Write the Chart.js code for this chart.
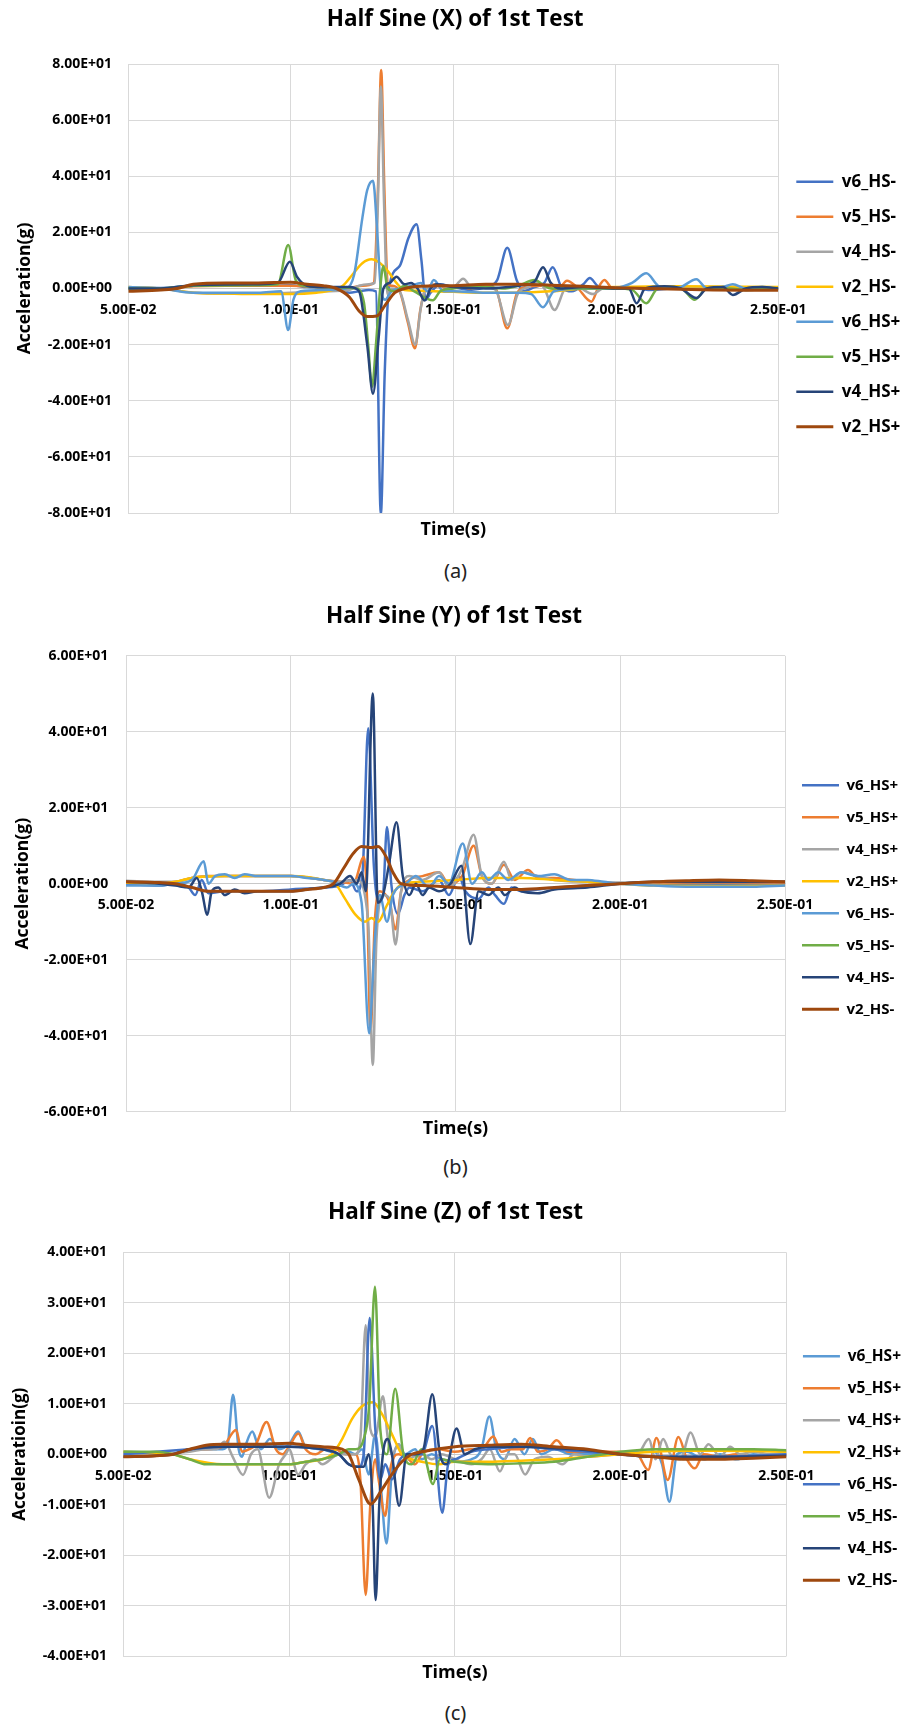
<!DOCTYPE html>
<html>
<head>
<meta charset="utf-8">
<script src="https://cdn.jsdelivr.net/npm/chart.js@4.4.1/dist/chart.umd.min.js"></script>
<style>
  html, body { margin: 0; background: #fff; overflow: hidden; }
  #page { position: relative; width: 911px; height: 1727px; }
  .box { position: absolute; left: 0; width: 911px; }
  .cap { position: absolute; left: 4px; width: 903px; text-align: center; font-family: 'Noto Sans', sans-serif; font-size: 20px; line-height: 24px; color: #222; }
</style>
</head>
<body>
<div id="page">
  <div class="box" style="top:0px;height:550px"><canvas id="half_sine_x"></canvas></div>
  <div class="cap" style="top:559px">(a)</div>
  <div class="box" style="top:590px;height:560px"><canvas id="half_sine_y"></canvas></div>
  <div class="cap" style="top:1155px">(b)</div>
  <div class="box" style="top:1180px;height:510px"><canvas id="half_sine_z"></canvas></div>
  <div class="cap" style="top:1701px">(c)</div>
</div>
<script>
// tick values
const xTicks = [0.05, 0.10, 0.15, 0.20, 0.25];
const yTicksX = [-80, -60, -40, -20, 0, 20, 40, 60, 80];
const yTicksY = [-60, -40, -20, 0, 20, 40, 60];
const yTicksZ = [-40, -30, -20, -10, 0, 10, 20, 30, 40];

// Excel office palette, in series order
const colorsXY = ['#4472C4', '#ED7D31', '#A5A5A5', '#FFC000', '#5B9BD5', '#70AD47', '#264478', '#9E480E'];
const colorsZ = ['#5B9BD5', '#ED7D31', '#A5A5A5', '#FFC000', '#4472C4', '#70AD47', '#264478', '#9E480E'];

//Half Sine (X) -- [time(s), acceleration(g)]
const namesX = ['v6_HS-', 'v5_HS-', 'v4_HS-', 'v2_HS-', 'v6_HS+', 'v5_HS+', 'v4_HS+', 'v2_HS+'];
const x_v6m = [[0.05,0.3],[0.06,0.2],[0.07,1],[0.08,1.2],[0.09,1],[0.1,1.2],[0.105,0.5],[0.11,0.3],[0.115,-0.5],[0.118,-1.5],[0.121,-1],[0.124,-0.5],[0.1262,-1],[0.1277,-80.5],[0.1289,-30],[0.1302,0],[0.1335,8],[0.1362,18],[0.1387,22.9],[0.1402,10],[0.1415,-4],[0.143,-1.5],[0.146,1.5],[0.15,0.5],[0.155,-0.5],[0.16,0.5],[0.1635,3],[0.1666,14.5],[0.1695,3],[0.1715,-1],[0.175,0.5],[0.178,2],[0.1806,7.6],[0.1835,0],[0.1865,-1],[0.19,1.5],[0.192,3.7],[0.1945,0.8],[0.198,0],[0.205,0.3],[0.21,-0.5],[0.22,0.3],[0.23,0.5],[0.24,-0.5],[0.25,0]];
const x_v5m = [[0.05,0],[0.06,0],[0.07,0.8],[0.08,1],[0.09,1],[0.1,1],[0.11,0.5],[0.118,0.3],[0.122,1],[0.1255,2],[0.1268,35],[0.1278,77.9],[0.1288,35],[0.1298,2],[0.131,1],[0.1335,-1],[0.136,-12],[0.1382,-21.3],[0.1398,-8],[0.1415,0],[0.145,1.5],[0.148,0],[0.152,1],[0.155,0],[0.159,1],[0.163,0],[0.1666,-14.2],[0.1695,-2],[0.172,0.5],[0.178,1],[0.182,-0.5],[0.185,2.8],[0.188,0.5],[0.1925,-4.7],[0.1945,0],[0.1965,3],[0.199,0],[0.21,0.3],[0.25,0]];
const x_v4m = [[0.05,0.3],[0.06,0],[0.07,-1.5],[0.08,-1.8],[0.09,-1.8],[0.1,-1.5],[0.11,-1],[0.118,-0.5],[0.121,1],[0.124,1.5],[0.1258,2],[0.1268,30],[0.1277,72],[0.1287,30],[0.1297,-2],[0.131,0],[0.1335,-1],[0.136,-11],[0.1383,-20],[0.14,-7],[0.1415,0],[0.145,1],[0.15,0.5],[0.153,3.5],[0.156,0],[0.16,0.5],[0.163,-0.5],[0.1668,-13],[0.1698,-2],[0.173,0.5],[0.176,2.5],[0.178,0],[0.1812,-7.7],[0.1845,0],[0.188,0.5],[0.193,-2],[0.196,0],[0.205,0.3],[0.215,0.5],[0.25,0.3]];
const x_v2m = [[0.05,0.5],[0.06,0],[0.07,-1.5],[0.08,-1.8],[0.09,-2],[0.1,-2],[0.108,-1.5],[0.113,-0.5],[0.116,1],[0.119,5],[0.122,9],[0.1248,10.4],[0.1275,9],[0.13,6],[0.1325,2],[0.135,-0.5],[0.14,-0.8],[0.15,-1.2],[0.16,-1.5],[0.17,-1.5],[0.18,-1],[0.19,0],[0.2,0.5],[0.22,0.8],[0.25,0.5]];
const x_v6p = [[0.05,0.5],[0.06,0],[0.07,-1.5],[0.08,-1.5],[0.09,-1.5],[0.097,-1],[0.0992,-14.8],[0.1008,-4],[0.103,-1],[0.11,-0.5],[0.117,0],[0.1195,5],[0.122,25],[0.1235,35],[0.1253,38.4],[0.1265,22],[0.1277,0],[0.129,-4],[0.131,-1],[0.134,0],[0.137,1],[0.14,2],[0.142,-1],[0.144,3],[0.147,-1],[0.15,-1],[0.16,-1.5],[0.17,-1.5],[0.174,-2],[0.1776,-6.7],[0.181,-1],[0.19,0],[0.2,0.3],[0.205,2],[0.2094,5.4],[0.213,1],[0.217,0],[0.22,0.5],[0.2248,3.3],[0.228,0],[0.233,0.5],[0.236,1.5],[0.24,0],[0.245,0.5],[0.25,0]];
const x_v5p = [[0.05,0],[0.06,0],[0.07,1],[0.09,1.2],[0.096,1.5],[0.0992,15.5],[0.1015,3],[0.104,1],[0.11,0.5],[0.12,0],[0.1225,-5],[0.1238,-20],[0.125,-35],[0.1262,-20],[0.1275,0],[0.1285,8],[0.1298,0],[0.132,-1],[0.135,1],[0.138,-1],[0.1437,-4.2],[0.146,-1],[0.15,0],[0.155,0.5],[0.16,0.5],[0.165,0],[0.17,1],[0.175,3],[0.178,1],[0.18,0],[0.19,0],[0.2,0],[0.205,-0.5],[0.2094,-5.3],[0.213,0],[0.22,0],[0.2243,-4],[0.228,0],[0.235,0],[0.24,-0.5],[0.25,0]];
const x_v4p = [[0.05,0],[0.06,0],[0.07,1.2],[0.09,1.5],[0.096,2],[0.0997,9.5],[0.102,4],[0.105,1],[0.11,0.5],[0.118,0.5],[0.121,-1],[0.1235,-20],[0.1253,-37.5],[0.127,-18],[0.1285,0],[0.1305,2],[0.1325,4.2],[0.135,1.5],[0.137,2],[0.139,0],[0.1412,-4.3],[0.143,0],[0.145,1.5],[0.15,0.5],[0.16,0],[0.17,1],[0.175,2.5],[0.1776,7.6],[0.18,2],[0.183,0],[0.19,0.5],[0.2,0],[0.204,0],[0.2064,-5.3],[0.209,0],[0.215,0.8],[0.22,0],[0.2248,-3.4],[0.228,0],[0.233,0.5],[0.236,-2.3],[0.24,0],[0.245,0.5],[0.25,0]];
const x_v2p = [[0.05,-1],[0.06,-0.5],[0.065,0],[0.07,1.5],[0.08,2],[0.09,2],[0.1,2.2],[0.105,1.5],[0.11,1],[0.114,0],[0.118,-3],[0.121,-8],[0.1235,-10],[0.1265,-9.8],[0.129,-6],[0.132,-1.5],[0.135,0],[0.14,0.8],[0.15,1],[0.16,1.5],[0.17,1.5],[0.18,1.2],[0.19,0.8],[0.2,0.3],[0.21,0],[0.22,-0.3],[0.23,-0.5],[0.24,-0.6],[0.25,-0.6]];

//Half Sine (Y)
const namesY = ['v6_HS+', 'v5_HS+', 'v4_HS+', 'v2_HS+', 'v6_HS-', 'v5_HS-', 'v4_HS-', 'v2_HS-'];
const y_v6p = [[0.05,0],[0.06,-0.5],[0.065,0],[0.069,-1],[0.071,-3],[0.073,1],[0.075,-2.5],[0.08,-2],[0.09,-2],[0.1,-1.5],[0.11,-1],[0.115,-0.5],[0.118,1],[0.12,-2],[0.1218,3],[0.1235,40.9],[0.1252,5],[0.1265,-5],[0.128,-3],[0.1292,14.9],[0.1305,0],[0.1325,-8],[0.1345,-3],[0.136,-1],[0.14,-2],[0.145,1],[0.148,-3],[0.151,2],[0.153,-2],[0.157,-4],[0.16,-1],[0.162,-3],[0.1647,-5.3],[0.167,-1],[0.17,-2],[0.175,-1.5],[0.18,-1],[0.19,-0.5],[0.2,0],[0.21,0],[0.25,0]];
const y_v5p = [[0.05,0.3],[0.06,0],[0.065,0.5],[0.07,1.5],[0.075,2],[0.08,2],[0.09,2],[0.1,2],[0.11,1],[0.115,0.5],[0.119,0],[0.1222,7],[0.1232,-5],[0.1242,-39.3],[0.1255,-10],[0.127,-2],[0.13,-5],[0.1318,-12],[0.1335,-2],[0.136,1],[0.14,2],[0.145,3],[0.148,0],[0.152,2],[0.1555,10],[0.158,2],[0.161,0],[0.1647,5],[0.168,1],[0.172,3.6],[0.175,1.5],[0.18,1.5],[0.19,0.5],[0.2,0],[0.22,0.3],[0.25,0.3]];
const y_v4p = [[0.05,0.8],[0.06,0.5],[0.065,0.5],[0.07,1.5],[0.08,2],[0.09,2],[0.1,2],[0.11,1],[0.115,0.5],[0.12,1],[0.1235,-10],[0.1249,-47.7],[0.126,-15],[0.128,-3],[0.13,-4],[0.1318,-16],[0.1335,-2],[0.136,2],[0.14,1],[0.145,3],[0.148,-1],[0.152,4],[0.1555,12.9],[0.158,2],[0.161,0],[0.1647,5.8],[0.167,1],[0.17,3],[0.175,2],[0.18,1],[0.19,0.5],[0.2,0.3],[0.22,0.5],[0.25,0.5]];
const y_v2p = [[0.05,0.3],[0.06,0],[0.065,0.5],[0.07,1.5],[0.08,2],[0.1,2],[0.11,1],[0.1135,0],[0.1165,-4],[0.1195,-8],[0.1225,-10],[0.1245,-9],[0.1265,-10],[0.129,-6],[0.1315,-2],[0.134,0],[0.14,0.5],[0.15,1],[0.16,1.5],[0.17,1.5],[0.18,1],[0.19,0.5],[0.2,0],[0.21,-0.5],[0.23,-0.6],[0.25,-0.5]];
const y_v6m = [[0.05,-0.5],[0.06,-0.5],[0.065,0],[0.07,1],[0.0736,5.9],[0.075,0],[0.077,2],[0.08,2.5],[0.083,1.5],[0.086,2.5],[0.09,2],[0.095,2],[0.1,2],[0.105,1.5],[0.11,1],[0.113,0.5],[0.117,-1],[0.119,0],[0.1215,-5],[0.1238,-39.4],[0.1255,-15],[0.127,-3],[0.1292,-10],[0.131,-3],[0.135,0],[0.138,2],[0.142,-1],[0.145,2],[0.148,0],[0.1522,10.6],[0.155,0],[0.158,3],[0.16,1],[0.163,3],[0.166,1],[0.17,3],[0.175,2],[0.18,2.5],[0.185,1],[0.19,1],[0.195,0.5],[0.2,0],[0.21,-0.5],[0.22,-0.8],[0.24,-0.8],[0.25,-0.5]];
const y_v5m = [];
const y_v4m = [[0.05,0.5],[0.06,0],[0.065,-0.5],[0.069,-1],[0.0715,1.5],[0.073,-2],[0.0747,-8.2],[0.076,-2],[0.078,-1],[0.08,-3],[0.083,-1.5],[0.086,-2.5],[0.09,-2],[0.095,-2],[0.1,-2],[0.105,-1.5],[0.11,-1],[0.115,0],[0.118,2],[0.12,0],[0.1215,3],[0.1228,-2],[0.1249,50.1],[0.1264,-5],[0.128,-3],[0.1298,5],[0.1321,16.2],[0.134,2],[0.136,-3],[0.138,0],[0.14,-3],[0.142,-1],[0.145,-2],[0.1485,0],[0.1518,4.7],[0.1545,-15.9],[0.157,-2],[0.16,-3],[0.163,-1],[0.165,-3],[0.168,-1],[0.17,-2],[0.175,-2.5],[0.18,-1.5],[0.19,-1],[0.2,0],[0.21,0.5],[0.22,0.5],[0.25,0.5]];
const y_v2m = [[0.05,0.5],[0.06,0.3],[0.065,0],[0.07,-1],[0.075,-2],[0.08,-2],[0.09,-2],[0.1,-2],[0.105,-1.5],[0.11,-1],[0.113,0],[0.116,4],[0.119,8],[0.1215,9.8],[0.1245,9.5],[0.1265,9.8],[0.129,7],[0.131,3],[0.1335,0],[0.14,-0.5],[0.15,-1],[0.16,-1.5],[0.17,-1.5],[0.18,-1],[0.19,-0.5],[0.2,0],[0.21,0.5],[0.22,0.8],[0.23,1],[0.24,0.8],[0.25,0.5]];

//Half Sine (Z)
const namesZ = ['v6_HS+', 'v5_HS+', 'v4_HS+', 'v2_HS+', 'v6_HS-', 'v5_HS-', 'v4_HS-', 'v2_HS-'];
const z_v6p = [[0.05,0.5],[0.06,0.3],[0.065,0],[0.07,1],[0.075,1],[0.08,1],[0.0815,2],[0.0831,11.8],[0.0848,1],[0.0858,-0.5],[0.087,2],[0.0889,4.5],[0.0905,2],[0.0915,1],[0.0942,3],[0.097,1],[0.1,2],[0.1027,4.5],[0.105,1.5],[0.11,1],[0.115,0],[0.118,0.5],[0.12,0],[0.122,1],[0.124,-4],[0.126,4],[0.1275,-5],[0.1294,-17.7],[0.131,-3],[0.133,2],[0.135,0],[0.138,1],[0.14,-1],[0.143,0],[0.146,-1],[0.15,-1.5],[0.155,-1],[0.158,1],[0.1604,7.5],[0.1625,1],[0.165,-1],[0.168,3],[0.171,0],[0.1735,3],[0.176,0],[0.18,1],[0.185,0],[0.19,0],[0.2,0],[0.205,0.5],[0.21,0.5],[0.2125,-2],[0.2147,-9.4],[0.217,0],[0.22,0.5],[0.225,-1],[0.23,0],[0.235,-1],[0.24,0],[0.245,-0.5],[0.25,0]];
const z_v5p = [[0.05,-0.5],[0.06,-0.3],[0.065,0],[0.07,1],[0.075,1],[0.08,1.5],[0.084,4.8],[0.0858,0.5],[0.088,1],[0.09,2],[0.0932,6.4],[0.096,1],[0.098,0],[0.1,1.5],[0.1028,4.1],[0.105,1],[0.108,0],[0.111,1],[0.114,1],[0.117,0],[0.12,0],[0.1215,-5],[0.1231,-27.9],[0.1245,-10],[0.126,-1],[0.127,-5],[0.129,-12.2],[0.1305,-3],[0.133,0],[0.136,-1],[0.138,-2],[0.14,0],[0.145,1],[0.15,0.5],[0.155,1],[0.158,1],[0.1616,3.5],[0.164,0.5],[0.167,1],[0.1705,1],[0.1727,3.2],[0.175,0.5],[0.178,1],[0.1807,2.8],[0.184,0.5],[0.19,0.5],[0.2,0.5],[0.205,0],[0.2083,-3.1],[0.2108,3.2],[0.2142,-5.1],[0.2174,3.4],[0.22,-1],[0.2224,-2.8],[0.225,0],[0.23,-0.5],[0.235,0],[0.24,-0.5],[0.25,0]];
const z_v4p = [[0.05,0],[0.06,0],[0.07,0.5],[0.075,1],[0.078,1],[0.0805,2.5],[0.083,-0.5],[0.0861,-4.1],[0.0885,0],[0.0905,1],[0.094,-8.6],[0.097,-2],[0.099,0],[0.1,1],[0.1027,-4],[0.105,-2],[0.108,-1],[0.11,-2],[0.115,0],[0.12,0],[0.1215,3],[0.1231,25.6],[0.1245,5],[0.126,3.5],[0.1283,11.5],[0.1298,3],[0.131,0],[0.133,2],[0.135,-1],[0.14,0],[0.143,-1],[0.146,0],[0.15,-1],[0.155,-2],[0.158,-1],[0.1605,1],[0.1636,-3.4],[0.166,0],[0.168,0],[0.1712,-4],[0.174,-1],[0.178,-0.5],[0.1824,-2],[0.186,0],[0.19,-0.5],[0.2,0],[0.205,0],[0.2085,3],[0.2105,-1],[0.2128,3],[0.215,0],[0.218,-1],[0.2211,4.3],[0.224,0],[0.2265,2],[0.23,-0.5],[0.233,1.5],[0.236,0],[0.24,0.5],[0.245,0],[0.25,0.3]];
const z_v2p = [[0.05,0.5],[0.06,0.2],[0.065,0],[0.07,-1],[0.08,-2],[0.09,-2],[0.1,-2],[0.105,-1.5],[0.11,-1],[0.113,0],[0.116,3],[0.119,7],[0.122,9.5],[0.1253,10.3],[0.128,8],[0.131,4],[0.134,0],[0.137,-1],[0.14,-1.5],[0.145,-2],[0.15,-1.5],[0.16,-1.5],[0.17,-1.3],[0.18,-1],[0.19,-0.5],[0.2,0],[0.21,0.5],[0.22,0.7],[0.23,0.7],[0.25,0.5]];
const z_v6m = [[0.05,0],[0.07,1],[0.08,1.5],[0.09,1.5],[0.1,1.5],[0.11,1],[0.115,0],[0.118,-2],[0.121,-2.5],[0.1225,0],[0.1243,27],[0.126,5],[0.1275,-5],[0.129,-2],[0.131,-5],[0.1335,-1],[0.136,0],[0.14,0],[0.1432,5.6],[0.1462,-11.6],[0.148,-2],[0.15,-1],[0.155,0.5],[0.16,1],[0.17,1.5],[0.18,1],[0.19,0.5],[0.2,0],[0.21,-0.5],[0.22,-0.5],[0.23,-0.5],[0.25,0]];
const z_v5m = [[0.05,0.5],[0.06,0.5],[0.065,0],[0.07,-1],[0.075,-2],[0.08,-2],[0.09,-2],[0.1,-2],[0.105,-1.5],[0.11,-1],[0.115,0],[0.118,1],[0.12,1],[0.1225,3],[0.1242,10],[0.1259,33.2],[0.1275,5],[0.1295,0],[0.132,13],[0.1345,0],[0.137,-2],[0.14,1],[0.1434,-5.9],[0.1455,-1],[0.15,-1.5],[0.16,-2],[0.17,-1.8],[0.18,-1.5],[0.19,-0.5],[0.2,0.5],[0.21,1],[0.22,1],[0.23,1],[0.24,1],[0.25,0.8]];
const z_v4m = [[0.05,-0.5],[0.06,-0.3],[0.065,0],[0.07,1],[0.08,1.5],[0.09,1.5],[0.1,1.5],[0.11,1],[0.115,0],[0.118,-2],[0.12,-2.5],[0.1225,-2.5],[0.124,0],[0.1252,-10],[0.1261,-28.9],[0.1272,-10],[0.1283,0],[0.1297,3],[0.131,0],[0.1332,-10.2],[0.1355,0],[0.138,0],[0.1405,1],[0.1432,11.9],[0.1455,0],[0.1475,-2],[0.1505,5.1],[0.153,0],[0.156,1],[0.16,1.5],[0.17,1.5],[0.18,1.2],[0.19,0.8],[0.2,0],[0.21,-0.5],[0.22,-0.5],[0.23,-0.5],[0.25,-0.3]];
const z_v2m = [[0.05,-0.5],[0.06,-0.3],[0.065,0],[0.07,1],[0.075,1.8],[0.08,2],[0.09,2],[0.1,2.2],[0.105,1.8],[0.11,1.5],[0.116,1],[0.118,0],[0.121,-5],[0.1246,-9.9],[0.128,-7],[0.131,-4],[0.134,-1.5],[0.137,0],[0.14,0.5],[0.15,1.5],[0.16,1.8],[0.17,2],[0.18,1.5],[0.19,1],[0.2,0],[0.21,-0.5],[0.22,-1],[0.23,-1],[0.24,-0.8],[0.25,-0.5]];

Chart.defaults.font.family = "'Open Sans', sans-serif";
Chart.defaults.color = '#000';

// Excel style 8.00E+01
function sci(v) {
    const parts = Number(v).toExponential(2).split('e');
    const n = parseInt(parts[1], 10);
    return parts[0] + 'E' + (n < 0 ? '-' : '+') + String(Math.abs(n)).padStart(2, '0');
}

function makeChart(id, L, title, yTitle, yTicks, names, colors, series) {
    const tLh = 22.5 * 1.2;
    const xtLh = 18 * 1.2;
    const chart = new Chart(document.getElementById(id), {
        type: 'line',
        data: {
            datasets: series.map((s, i) => ({
                label: names[i],
                data: s,
                borderColor: colors[i],
                backgroundColor: colors[i],
                borderWidth: i === 7 ? 3 : 2.5,
                pointRadius: 0,
                cubicInterpolationMode: 'monotone',
                fill: false,
                order: series.length - i   // later series on top, like Excel
            }))
        },
        options: {
            responsive: true,
            maintainAspectRatio: false,
            animation: false,
            layout: {
                padding: { left: 0, top: 0, right: 0, bottom: L.height - L.plotBottom - (xtLh + 6.2 + 2) }
            },
            plugins: {
                title: {
                    display: true,
                    text: title,
                    color: '#000',
                    font: { size: 22.5, weight: 'bold' },
                    padding: { top: L.titleY - tLh / 2, bottom: L.plotTop - L.titleY - tLh / 2 }
                },
                legend: {
                    position: 'right',
                    fullSize: false,
                    maxWidth: 911 - L.plotRight,
                    title: { display: true, text: ' ', font: { size: 10 }, padding: { top: 0, bottom: L.legendShift - 12 } },
                    labels: {
                        usePointStyle: true,
                        pointStyle: 'line',
                        pointStyleWidth: 37,
                        padding: L.legendPad,
                        color: '#000',
                        font: { size: L.legendFont, weight: 'bold' },
                        sort: (a, b) => a.datasetIndex - b.datasetIndex
                    }
                },
                tooltip: { enabled: false }
            },
            scales: {
                x: {
                    type: 'linear',
                    position: { y: 0 },
                    min: 0.05,
                    max: 0.25,
                    afterBuildTicks: s => { s.ticks = xTicks.map(v => ({ value: v })); },
                    grid: { color: '#D9D9D9', drawTicks: false },
                    border: { color: '#C8C8C8' },
                    ticks: { callback: sci, color: '#000', font: { size: 14, weight: 'bold' }, padding: 13, maxRotation: 0, autoSkip: false }
                },
                x2: {
                    type: 'linear',
                    position: 'bottom',
                    min: 0.05,
                    max: 0.25,
                    grid: { display: false, drawTicks: false },
                    border: { display: false },
                    ticks: { display: false },
                    title: { display: true, text: 'Time(s)', color: '#000', font: { size: 18, weight: 'bold' }, padding: { top: 6.2, bottom: 2 } }
                },
                y: {
                    type: 'linear',
                    position: 'left',
                    min: yTicks[0],
                    max: yTicks[yTicks.length - 1],
                    afterBuildTicks: s => { s.ticks = yTicks.map(v => ({ value: v })); },
                    afterFit: s => { s.width = L.plotLeft; },
                    grid: { color: '#D9D9D9', drawTicks: false },
                    border: { display: false },
                    ticks: { callback: sci, color: '#000', font: { size: 14, weight: 'bold' }, padding: L.yTickPad },
                    title: {
                        display: true,
                        text: yTitle,
                        color: '#000',
                        font: { size: L.yTitleFont, weight: 'bold' },
                        padding: { top: L.yTitleX - L.yTitleFont * 0.6, bottom: 0 }
                    }
                }
            }
        }
    });
    // if the legend came out narrower than asked, pad on the right so the plot keeps its width
    const extra = chart.chartArea.right - L.plotRight;
    if (extra > 0.5) {
        chart.options.layout.padding.right = extra;
        chart.update();
    }
    return chart;
}

makeChart('half_sine_x',
    { height: 550, titleY: 20, plotTop: 64, plotBottom: 513, plotLeft: 128.3, plotRight: 778.3,
      legendPad: 18, legendFont: 17, legendShift: 31.4, yTickPad: 16.3, yTitleX: 25, yTitleFont: 17.5 },
    'Half Sine (X) of 1st Test', 'Acceleration(g)', yTicksX, namesX, colorsXY,
    [x_v6m, x_v5m, x_v4m, x_v2m, x_v6p, x_v5p, x_v4p, x_v2p]);

makeChart('half_sine_y',
    { height: 560, titleY: 27, plotTop: 65.8, plotBottom: 521.6, plotLeft: 126, plotRight: 785,
      legendPad: 17, legendFont: 15, legendShift: 27.2, yTickPad: 17.7, yTitleX: 23, yTitleFont: 17.5 },
    'Half Sine (Y) of 1st Test', 'Acceleration(g)', yTicksY, namesY, colorsXY,
    [y_v6p, y_v5p, y_v4p, y_v2p, y_v6m, y_v5m, y_v4m, y_v2m]);

makeChart('half_sine_z',
    { height: 510, titleY: 33, plotTop: 72.5, plotBottom: 476, plotLeft: 123.3, plotRight: 786,
      legendPad: 16.5, legendFont: 15.5, legendShift: 28.2, yTickPad: 16.3, yTitleX: 20, yTitleFont: 17 },
    'Half Sine (Z) of 1st Test', 'Acceleratioin(g)', yTicksZ, namesZ, colorsZ,
    [z_v6p, z_v5p, z_v4p, z_v2p, z_v6m, z_v5m, z_v4m, z_v2m]);
</script>
</body>
</html>
